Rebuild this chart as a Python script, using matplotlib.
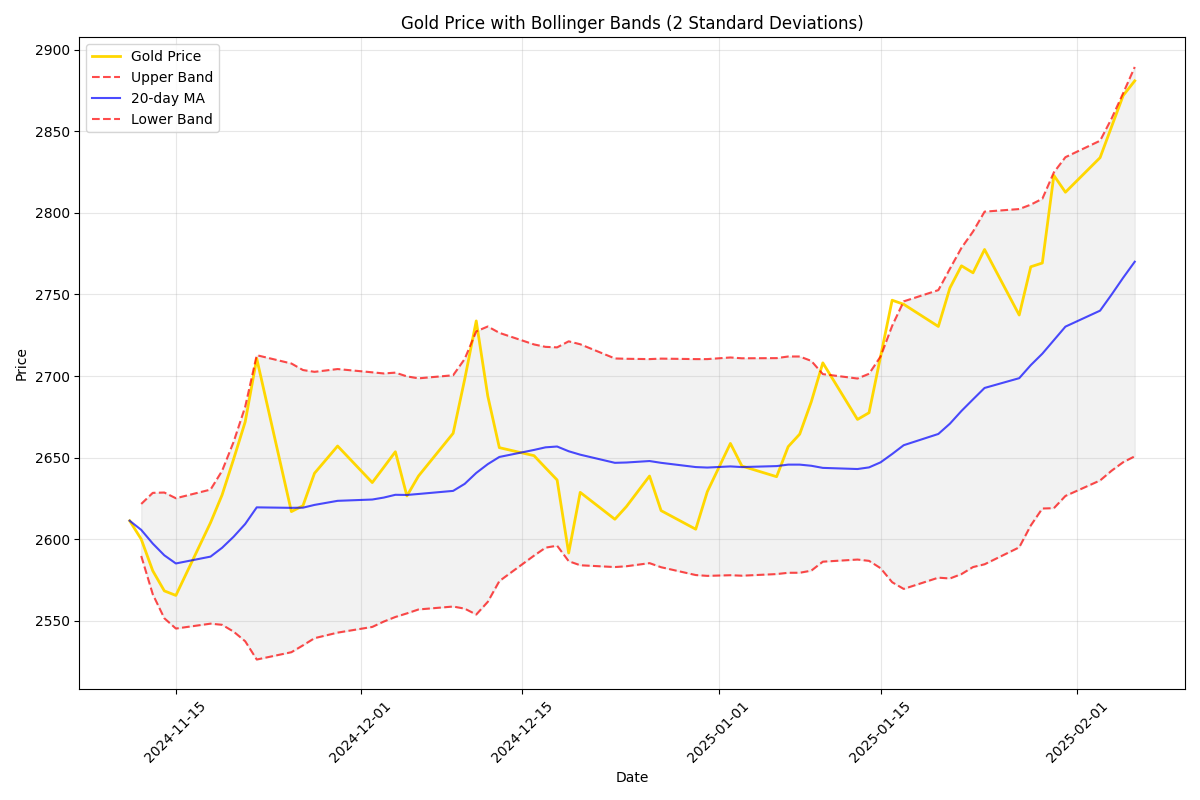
import matplotlib
matplotlib.use("Agg")
import matplotlib.pyplot as plt
import numpy as np
import pandas as pd

dates = pd.to_datetime([
    "2024-11-11", "2024-11-12", "2024-11-13", "2024-11-14", "2024-11-15",
    "2024-11-18", "2024-11-19", "2024-11-20", "2024-11-21", "2024-11-22",
    "2024-11-25", "2024-11-26", "2024-11-27", "2024-11-29",
    "2024-12-02", "2024-12-03", "2024-12-04", "2024-12-05", "2024-12-06",
    "2024-12-09", "2024-12-10", "2024-12-11", "2024-12-12", "2024-12-13",
    "2024-12-16", "2024-12-17", "2024-12-18", "2024-12-19", "2024-12-20",
    "2024-12-23", "2024-12-24", "2024-12-26", "2024-12-27",
    "2024-12-30", "2024-12-31", "2025-01-02", "2025-01-03",
    "2025-01-06", "2025-01-07", "2025-01-08", "2025-01-09", "2025-01-10",
    "2025-01-13", "2025-01-14", "2025-01-15", "2025-01-16", "2025-01-17",
    "2025-01-20", "2025-01-21", "2025-01-22", "2025-01-23", "2025-01-24",
    "2025-01-27", "2025-01-28", "2025-01-29", "2025-01-30", "2025-01-31",
    "2025-02-03", "2025-02-04", "2025-02-05", "2025-02-06",
])

gold_price = [
    2611.3, 2600.0, 2580.6, 2568.3, 2565.5,
    2610.1, 2627.1, 2649.1, 2671.9, 2710.7,
    2616.9, 2620.5, 2640.4, 2657.1,
    2634.7, 2644.1, 2653.6, 2626.5, 2638.7,
    2664.9, 2698.0, 2733.8, 2687.7, 2656.1,
    2651.2, 2643.7, 2636.3, 2591.5, 2628.7,
    2612.2, 2620.0, 2638.7, 2617.5,
    2606.1, 2629.1, 2658.7, 2644.8,
    2638.3, 2656.7, 2664.4, 2684.2, 2708.1,
    2673.4, 2677.5, 2712.0, 2746.5, 2744.0,
    2730.4, 2754.0, 2767.6, 2763.3, 2777.6,
    2737.4, 2767.0, 2769.3, 2823.0, 2812.7,
    2833.9, 2853.0, 2872.0, 2881.0,
]

ma_20 = [
    2611.3, 2605.7, 2597.3, 2590.1, 2585.1,
    2589.3, 2594.7, 2601.5, 2609.3, 2619.5,
    2619.2, 2619.3, 2621.0, 2623.5,
    2624.3, 2625.5, 2627.2, 2627.1, 2627.7,
    2629.6, 2633.9, 2640.6, 2646.0, 2650.4,
    2654.7, 2656.3, 2656.8, 2653.9, 2651.8,
    2646.8, 2647.0, 2647.9, 2646.8,
    2644.2, 2643.9, 2644.6, 2644.2,
    2644.8, 2645.7, 2645.7, 2645.0, 2643.7,
    2643.0, 2644.0, 2647.1, 2652.2, 2657.6,
    2664.5, 2670.8, 2678.6, 2685.7, 2692.7,
    2698.7, 2706.7, 2713.7, 2722.0, 2730.3,
    2740.1, 2750.0, 2760.3, 2770.1,
]

upper_band = [
    np.nan, 2621.6, 2628.4, 2628.6, 2625.1,
    2630.4, 2641.9, 2659.7, 2681.2, 2712.8,
    2707.7, 2703.7, 2702.6, 2704.3,
    2702.3, 2701.6, 2702.1, 2699.8, 2698.6,
    2700.5, 2710.5, 2727.4, 2730.4, 2726.5,
    2719.4, 2717.9, 2717.6, 2721.3, 2719.5,
    2710.8, 2710.6, 2710.4, 2710.7,
    2710.4, 2710.4, 2711.4, 2710.9,
    2711.0, 2712.0, 2712.0, 2709.3, 2701.2,
    2698.5, 2701.4, 2712.0, 2730.8, 2745.8,
    2752.7, 2765.8, 2778.6, 2788.6, 2800.8,
    2802.4, 2805.1, 2808.7, 2824.9, 2834.2,
    2844.3, 2858.0, 2873.5, 2889.5,
]

lower_band = [
    np.nan, 2589.7, 2566.2, 2551.5, 2545.2,
    2548.2, 2547.5, 2543.3, 2537.4, 2526.2,
    2530.7, 2534.9, 2539.3, 2542.7,
    2546.2, 2549.5, 2552.3, 2554.5, 2556.9,
    2558.7, 2557.4, 2553.8, 2561.6, 2574.3,
    2589.9, 2594.8, 2596.0, 2586.5, 2584.0,
    2582.9, 2583.4, 2585.3, 2582.8,
    2578.0, 2577.5, 2577.9, 2577.6,
    2578.6, 2579.4, 2579.4, 2580.7, 2586.2,
    2587.5, 2586.7, 2582.2, 2573.6, 2569.5,
    2576.4, 2575.9, 2578.6, 2582.9, 2584.6,
    2595.0, 2608.4, 2618.8, 2619.0, 2626.5,
    2636.0, 2642.0, 2647.2, 2650.8,
]

fig, ax = plt.subplots(figsize=(12, 8))
ax.plot(dates, gold_price, label="Gold Price", color="gold", linewidth=2)
ax.plot(dates, upper_band, "r--", label="Upper Band", alpha=0.7)
ax.plot(dates, ma_20, label="20-day MA", color="blue", alpha=0.7)
ax.plot(dates, lower_band, "r--", label="Lower Band", alpha=0.7)
ax.fill_between(dates, upper_band, lower_band, color="gray", alpha=0.1)

ax.set_title("Gold Price with Bollinger Bands (2 Standard Deviations)")
ax.set_xlabel("Date")
ax.set_ylabel("Price")
ax.legend(loc="upper left")
ax.grid(True, alpha=0.3)
plt.xticks(rotation=45)
plt.tight_layout()
plt.savefig("out.png", dpi=100)
